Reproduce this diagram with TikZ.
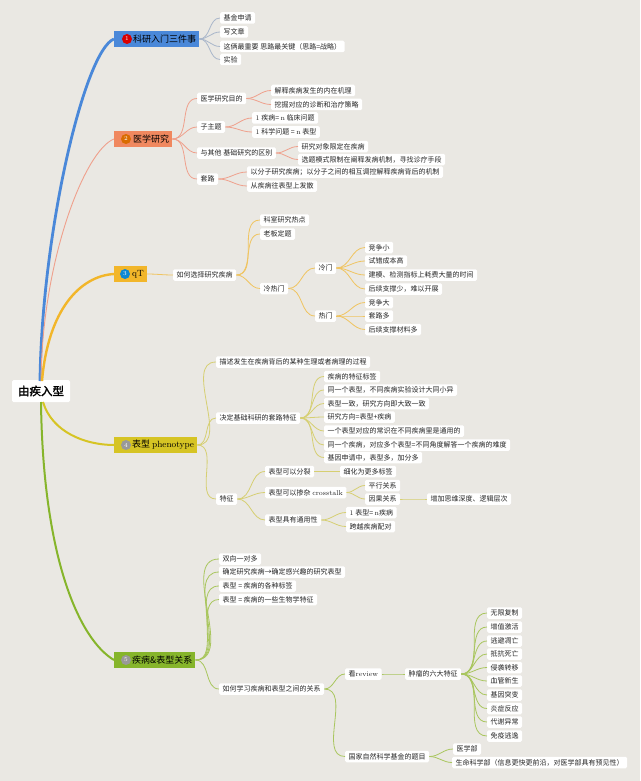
\documentclass[tikz,border=0pt]{standalone}
\usepackage{fontspec}
\newfontfamily\cjk{Noto Sans CJK SC}[AutoFakeBold=2]
\definecolor{bgc}{HTML}{EAE8E3}
\definecolor{cA}{HTML}{4A88D9}
\definecolor{lA}{HTML}{A9B6CA}
\definecolor{cB}{HTML}{F0885F}
\definecolor{lB}{HTML}{EFA08C}
\definecolor{cC}{HTML}{F2B62A}
\definecolor{lC}{HTML}{F0C460}
\definecolor{cD}{HTML}{D6C424}
\definecolor{lD}{HTML}{D6CF72}
\definecolor{cE}{HTML}{86B52B}
\definecolor{lE}{HTML}{A9C65E}
\tikzset{
 leaf/.style={fill=white, rounded corners=1.5pt, inner xsep=3.5pt, inner ysep=0pt, minimum height=11.5pt, font=\cjk\fontsize{7}{8}\selectfont, anchor=west, text=black!85},
 br/.style={anchor=west, inner xsep=3pt, inner ysep=0pt, minimum height=16pt, font=\cjk\fontsize{9}{10}\selectfont, text=black},
 ic/.style={circle, inner sep=0pt, minimum size=10pt, text=white, font=\fontsize{6}{6}\selectfont},
 lk/.style={line width=0.8pt},
}
\begin{document}
\begin{tikzpicture}[x=1pt,y=-1pt]
\fill[bgc] (0,0) rectangle (640,781);
\useasboundingbox (0,0) rectangle (640,781);

% root
\node[fill=white, rounded corners=1.5pt, minimum width=58pt, minimum height=22pt, inner sep=0pt, font=\cjk\bfseries\fontsize{11.5}{12}\selectfont] (root) at (41,391) {由疾入型};

% branches
\node[br, fill=cA] (b1) at (114,39) {\hspace*{16pt}科研入门三件事};
\node[ic, fill=red!85!black] (i1) at (127,39) {1};
\node[br, fill=cB] (b2) at (114,139) {\hspace*{16pt}医学研究};
\node[ic, fill=orange!85!black] (i2) at (126,139) {2};
\node[br, fill=cC] (b3) at (114,274) {\hspace*{15pt}{\rmfamily qT}};
\node[ic, fill=cyan!70!blue] (i3) at (125,274) {3};
\node[br, fill=cD] (b4) at (114,445) {\hspace*{15pt}表型 {\rmfamily phenotype}};
\node[ic, fill=gray!80] (i4) at (126,445) {4};
\node[br, fill=cE] (b5) at (114,660) {\hspace*{15pt}疾病\&表型关系};
\node[ic, fill=gray!80] (i5) at (126,660) {5};

% root links
\draw[cA, line width=2.8pt] (40,381) .. controls (42,230) and (85,50) .. (b1.west);
\draw[lB, line width=0.9pt] (41,381) .. controls (42,260) and (85,150) .. (b2.west);
\draw[cC, line width=2.4pt] (42,381) .. controls (48,310) and (80,276) .. (b3.west);
\draw[cD, line width=2pt] (43,402) .. controls (52,432) and (85,445) .. (b4.west);
\draw[cE, line width=2pt] (41,402) .. controls (43,560) and (80,640) .. (b5.west);

% branch 1
\node[leaf] (a1) at (220,18) {基金申请};
\node[leaf] (a2) at (220,32) {写文章};
\node[leaf] (a3) at (220,46.5) {这俩最重要 思路最关键（思路=战略）};
\node[leaf] (a4) at (220,59.5) {实验};
\foreach \c in {a1,a2,a3,a4} \draw[lk,lA] (b1.east) to[out=0,in=180] (\c.west);

% branch 2
\node[leaf] (m1) at (197,98.5) {医学研究目的};
\node[leaf] (m11) at (271,90.5) {解释疾病发生的内在机理};
\node[leaf] (m12) at (271,104.5) {挖掘对应的诊断和治疗策略};
\node[leaf] (m2) at (197,127) {子主题};
\node[leaf] (m21) at (252,118) {{\rmfamily 1} 疾病= {\rmfamily n} 临床问题};
\node[leaf] (m22) at (252,132) {{\rmfamily 1} 科学问题 = {\rmfamily n} 表型};
\node[leaf] (m3) at (197,153) {与其他 基础研究的区别};
\node[leaf] (m31) at (298,146.5) {研究对象限定在疾病};
\node[leaf] (m32) at (298,159.5) {选题模式限制在阐释发病机制，寻找诊疗手段};
\node[leaf] (m4) at (197,179) {套路};
\node[leaf] (m41) at (247,172) {以分子研究疾病；以分子之间的相互调控解释疾病背后的机制};
\node[leaf] (m42) at (247,186) {从疾病往表型上发散};
\foreach \c in {m1,m2,m3,m4} \draw[lk,lB] (b2.east) to[out=0,in=180] (\c.west);
\foreach \p/\c in {m1/m11,m1/m12,m2/m21,m2/m22,m3/m31,m3/m32,m4/m41,m4/m42} \draw[lk,lB] (\p.east) to[out=0,in=180] (\c.west);

% branch 3
\node[leaf] (q1) at (173,275) {如何选择研究疾病};
\node[leaf] (q11) at (260,220) {科室研究热点};
\node[leaf] (q12) at (260,234) {老板定题};
\node[leaf] (q13) at (260,288.5) {冷热门};
\node[leaf] (q131) at (315,268) {冷门};
\node[leaf] (q1311) at (365,247.5) {竞争小};
\node[leaf] (q1312) at (365,261) {试错成本高};
\node[leaf] (q1313) at (365,275) {建模、检测指标上耗费大量的时间};
\node[leaf] (q1314) at (365,289) {后续支撑少，难以开展};
\node[leaf] (q132) at (315,316) {热门};
\node[leaf] (q1321) at (365,302.5) {竞争大};
\node[leaf] (q1322) at (365,316) {套路多};
\node[leaf] (q1323) at (365,329.5) {后续支撑材料多};
\draw[lk,lC] (b3.east) to[out=0,in=180] (q1.west);
\foreach \p/\c in {q1/q11,q1/q12,q1/q13,q13/q131,q13/q132,q131/q1311,q131/q1312,q131/q1313,q131/q1314,q132/q1321,q132/q1322,q132/q1323} \draw[lk,lC] (\p.east) to[out=0,in=180] (\c.west);

% branch 4
\node[leaf] (p1) at (216,362) {描述发生在疾病背后的某种生理或者病理的过程};
\node[leaf] (p2) at (216,418) {决定基础科研的套路特征};
\node[leaf] (p21) at (324,376.5) {疾病的特征标签};
\node[leaf] (p22) at (324,390) {同一个表型，不同疾病实验设计大同小异};
\node[leaf] (p23) at (324,403.5) {表型一致，研究方向即大致一致};
\node[leaf] (p24) at (324,417) {研究方向=表型+疾病};
\node[leaf] (p25) at (324,431) {一个表型对应的常识在不同疾病里是通用的};
\node[leaf] (p26) at (324,445) {同一个疾病，对应多个表型=不同角度解答一个疾病的难度};
\node[leaf] (p27) at (324,457.5) {基因申请中，表型多，加分多};
\node[leaf] (p3) at (216,499) {特征};
\node[leaf] (p31) at (265,471.5) {表型可以分裂};
\node[leaf] (p311) at (340,471.5) {细化为更多标签};
\node[leaf] (p32) at (265,492.5) {表型可以掺杂 {\rmfamily crosstalk}};
\node[leaf] (p321) at (365,485.5) {平行关系};
\node[leaf] (p322) at (365,499) {因果关系};
\node[leaf] (p3221) at (427,499) {增加思维深度、逻辑层次};
\node[leaf] (p33) at (265,520) {表型具有通用性};
\node[leaf] (p331) at (346,512.5) {{\rmfamily 1} 表型= {\rmfamily n}疾病};
\node[leaf] (p332) at (346,526.5) {跨越疾病配对};
\foreach \c in {p1,p2,p3} \draw[lk,lD] (b4.east) to[out=0,in=180] (\c.west);
\foreach \p/\c in {p2/p21,p2/p22,p2/p23,p2/p24,p2/p25,p2/p26,p2/p27,p3/p31,p3/p32,p3/p33,p31/p311,p32/p321,p32/p322,p322/p3221,p33/p331,p33/p332} \draw[lk,lD] (\p.east) to[out=0,in=180] (\c.west);

% branch 5
\node[leaf] (g1) at (219,559) {双向一对多};
\node[leaf] (g2) at (219,572) {确定研究疾病→确定感兴趣的研究表型};
\node[leaf] (g3) at (219,586) {表型 = 疾病的各种标签};
\node[leaf] (g4) at (219,599.5) {表型 = 疾病的一些生物学特征};
\node[leaf] (g5) at (219,689) {如何学习疾病和表型之间的关系};
\node[leaf] (g51) at (345,674) {看{\rmfamily review}};
\node[leaf] (g511) at (405,674) {肿瘤的六大特征};
\node[leaf] (t1) at (487,613) {无限复制};
\node[leaf] (t2) at (487,627) {增值激活};
\node[leaf] (t3) at (487,641) {逃避凋亡};
\node[leaf] (t4) at (487,654) {抵抗死亡};
\node[leaf] (t5) at (487,667.5) {侵袭转移};
\node[leaf] (t6) at (487,681) {血管新生};
\node[leaf] (t7) at (487,695) {基因突变};
\node[leaf] (t8) at (487,708.5) {炎症反应};
\node[leaf] (t9) at (487,722) {代谢异常};
\node[leaf] (t10) at (487,736) {免疫逃逸};
\node[leaf] (g52) at (345,756.5) {国家自然科学基金的题目};
\node[leaf] (g521) at (453,749) {医学部};
\node[leaf] (g522) at (452,762.5) {生命科学部（信息更快更前沿，对医学部具有预见性）};
\foreach \c in {g1,g2,g3,g4,g5} \draw[lk,lE] (b5.east) to[out=0,in=180] (\c.west);
\foreach \p/\c in {g5/g51,g5/g52,g51/g511,g52/g521,g52/g522} \draw[lk,lE] (\p.east) to[out=0,in=180] (\c.west);
\foreach \c in {t1,t2,t3,t4,t5,t6,t7,t8,t9,t10} \draw[lk,lE] (g511.east) to[out=0,in=180] (\c.west);
\end{tikzpicture}
\end{document}
